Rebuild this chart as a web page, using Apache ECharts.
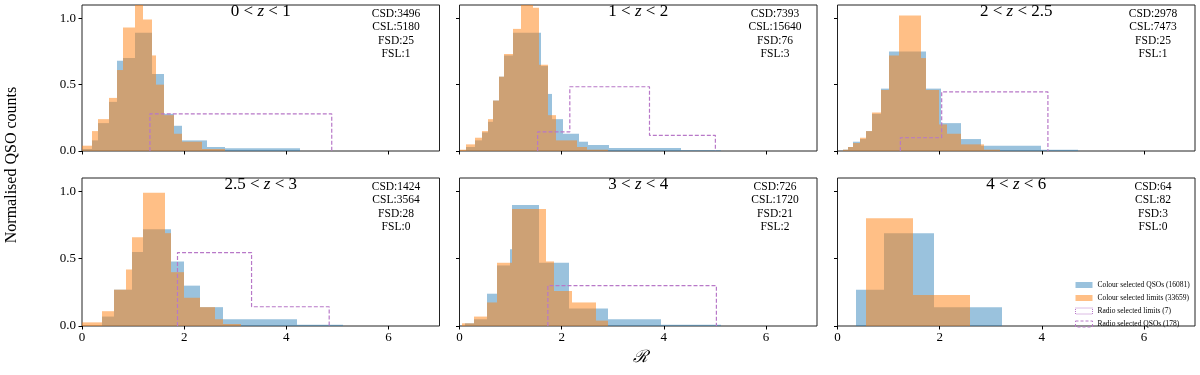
<!DOCTYPE html>
<html>
<head>
<meta charset="utf-8">
<script src="https://cdn.jsdelivr.net/npm/echarts@6/dist/echarts.min.js"></script>
<style>
html, body { margin: 0; padding: 0; background: #fff; }
#chart { width: 1200px; height: 375px; }
</style>
</head>
<body>
<div id="chart"></div>
<script>
// panel labels and counts
var zLabels = [['0', '1'], ['1', '2'], ['2', '2.5'], ['2.5', '3'], ['3', '4'], ['4', '6']];
var csdCounts = [3496, 7393, 2978, 1424, 726, 64];
var cslCounts = [5180, 15640, 7473, 3564, 1720, 82];
var fsdCounts = [25, 76, 25, 28, 21, 3];
var fslCounts = [1, 3, 1, 0, 2, 0];
var xTicks = [0, 2, 4, 6];
var yTicks = [0, 0.5, 1.0];

// colour selected QSOs (blue), bin edges and normalised heights per panel
var qsoEdges = [
    [0, 0.2, 0.32, 0.52, 0.68, 0.8, 1.04, 1.38, 1.6, 1.8, 1.96, 2.45, 2.8, 4.27],
    [0.13, 0.3, 0.45, 0.55, 0.65, 0.78, 0.88, 1.04, 1.6, 1.73, 1.82, 2.02, 2.34, 2.52, 2.93, 4.33, 5.13],
    [0.1, 0.2, 0.31, 0.44, 0.55, 0.68, 0.85, 1.01, 1.73, 2.02, 2.41, 2.8, 3.98, 4.7],
    [0.39, 0.63, 0.98, 1.2, 1.75, 2.0, 2.31, 2.76, 4.2, 5.12],
    [0.1, 0.28, 0.54, 0.74, 0.98, 1.03, 1.56, 2.14, 2.9, 3.94, 5.12],
    [0.366, 0.915, 1.88, 3.22]
];
var qsoHeights = [
    [0.015, 0.08, 0.21, 0.37, 0.68, 0.7, 0.89, 0.58, 0.28, 0.19, 0.08, 0.03, 0.02],
    [0.03, 0.08, 0.14, 0.22, 0.38, 0.56, 0.72, 0.89, 0.64, 0.43, 0.24, 0.13, 0.07, 0.045, 0.022, 0.005],
    [0.01, 0.03, 0.07, 0.09, 0.15, 0.28, 0.47, 0.75, 0.47, 0.21, 0.09, 0.04, 0.01],
    [0.07, 0.27, 0.55, 0.72, 0.48, 0.30, 0.14, 0.05, 0.01],
    [0.02, 0.05, 0.24, 0.45, 0.57, 0.90, 0.47, 0.13, 0.05, 0.01],
    [0.27, 0.69, 0.14]
];

// colour selected limits (orange)
var limEdges = [
    [0, 0.2, 0.32, 0.52, 0.68, 0.8, 1.04, 1.2, 1.38, 1.45, 1.6, 1.8, 1.96, 2.35, 2.8],
    [0, 0.13, 0.3, 0.45, 0.55, 0.65, 0.78, 0.88, 1.04, 1.21, 1.43, 1.55, 1.73, 1.89, 2.3, 2.5, 2.9],
    [0.1, 0.2, 0.31, 0.44, 0.55, 0.68, 0.85, 1.01, 1.21, 1.63, 1.73, 1.99, 2.15, 2.41, 2.86, 3.18],
    [0, 0.39, 0.63, 0.87, 0.98, 1.2, 1.63, 1.75, 2.0, 2.31, 2.6, 2.76, 3.12],
    [0.05, 0.28, 0.54, 0.74, 1.03, 1.69, 1.85, 2.21, 2.68, 2.9],
    [0.556, 1.477, 2.59]
];
var limHeights = [
    [0.04, 0.15, 0.24, 0.40, 0.61, 0.93, 1.15, 0.99, 0.72, 0.5, 0.27, 0.13, 0.07, 0.015],
    [0.01, 0.05, 0.1, 0.15, 0.24, 0.38, 0.56, 0.73, 0.92, 1.12, 1.08, 0.65, 0.27, 0.08, 0.03, 0.01],
    [0.01, 0.03, 0.06, 0.1, 0.15, 0.29, 0.46, 0.72, 1.02, 0.70, 0.46, 0.2, 0.13, 0.05, 0.01],
    [0.027, 0.11, 0.27, 0.42, 0.66, 0.99, 0.69, 0.40, 0.21, 0.14, 0.05, 0.015],
    [0.02, 0.07, 0.175, 0.47, 0.87, 0.48, 0.26, 0.175, 0.04],
    [0.80, 0.23]
];

// radio selected QSOs (dashed step outline)
var radioEdges = [
    [1.33, 4.89],
    [1.53, 2.16, 3.72, 5.01],
    [1.23, 2.04, 4.12],
    [1.87, 3.32, 4.84],
    [1.73, 5.03],
    []
];
var radioHeights = [
    [0.28],
    [0.144, 0.484, 0.118],
    [0.1, 0.446],
    [0.546, 0.143],
    [0.3],
    []
];

var NAME_QSO = 'Colour selected QSOs (16081)';
var NAME_LIM = 'Colour selected limits (33659)';
var NAME_RLIM = 'Radio selected limits (7)';
var NAME_RQSO = 'Radio selected QSOs (178)';

var BLUE = 'rgba(31,119,180,0.45)';
var ORANGE = 'rgba(255,127,14,0.5)';
var PURPLE = '#b878c8';
var FONT = '"Liberation Serif", "Times New Roman", serif';

var colLeft = [82, 459.5, 837.5];
var colWidth = 357.5;
var rowTop = [5, 178];
var rowHeight = [146, 148];
var statsX = [396, 775, 1153];

function binsOf(edges, heights) {
    return heights.map(function (h, i) {
        return [edges[i], edges[i + 1], h];
    });
}

function stepOf(edges, heights) {
    if (!heights.length) return [];
    var pts = [[edges[0], 0]];
    heights.forEach(function (h, i) {
        pts.push([edges[i], h], [edges[i + 1], h]);
    });
    pts.push([edges[edges.length - 1], 0]);
    return pts;
}

function renderBin(params, api) {
    var p0 = api.coord([api.value(0), api.value(2)]);
    var p1 = api.coord([api.value(1), 0]);
    // snap the sides to whole pixels so neighbouring bins leave no seams
    var x0 = Math.round(p0[0]), x1 = Math.round(p1[0]);
    var cs = params.coordSys;
    var rect = echarts.graphic.clipRectByRect(
        { x: x0, y: p0[1], width: x1 - x0, height: p1[1] - p0[1] },
        { x: cs.x, y: cs.y, width: cs.width, height: cs.height }
    );
    return rect && { type: 'rect', shape: rect, style: api.style() };
}

var chart = echarts.init(document.getElementById('chart'), null, { renderer: 'canvas' });

var grids = [], xAxes = [], yAxes = [], series = [], graphics = [];

for (var i = 0; i < 6; i++) {
    var r = Math.floor(i / 3), c = i % 3;
    grids.push({
        left: colLeft[c], top: rowTop[r], width: colWidth, height: rowHeight[r],
        show: true, borderColor: '#222', borderWidth: 1, backgroundColor: 'transparent',
        outerBoundsMode: 'none'
    });
    xAxes.push({
        type: 'value', gridIndex: i, min: 0, max: 7, interval: 2,
        axisLine: { show: false },
        axisTick: { show: true, inside: false, length: 3.5, customValues: xTicks, lineStyle: { color: '#000' } },
        axisLabel: {
            show: r === 1, customValues: xTicks, margin: 5,
            fontFamily: FONT, fontSize: 13, color: '#000'
        },
        splitLine: { show: false }
    });
    yAxes.push({
        type: 'value', gridIndex: i, min: 0, max: 1.1, interval: 0.5,
        axisLine: { show: false },
        axisTick: { show: true, inside: false, length: 3.5, customValues: yTicks, lineStyle: { color: '#000' } },
        axisLabel: {
            show: c === 0, customValues: yTicks, margin: 6,
            fontFamily: FONT, fontSize: 13, color: '#000',
            formatter: function (v) { return v.toFixed(1); }
        },
        splitLine: { show: false }
    });

    series.push({
        type: 'custom', name: NAME_QSO, xAxisIndex: i, yAxisIndex: i,
        renderItem: renderBin, encode: { x: [0, 1], y: 2 },
        itemStyle: { color: BLUE }, silent: true,
        data: binsOf(qsoEdges[i], qsoHeights[i])
    });
    series.push({
        type: 'custom', name: NAME_LIM, xAxisIndex: i, yAxisIndex: i,
        renderItem: renderBin, encode: { x: [0, 1], y: 2 },
        itemStyle: { color: ORANGE }, silent: true,
        data: binsOf(limEdges[i], limHeights[i])
    });
    series.push({
        type: 'line', name: NAME_RQSO, xAxisIndex: i, yAxisIndex: i,
        symbol: 'none', silent: true,
        itemStyle: { color: PURPLE },
        lineStyle: { color: PURPLE, width: 1.2, type: [4, 2] },
        data: stepOf(radioEdges[i], radioHeights[i])
    });

    var cx = colLeft[c] + colWidth / 2;
    graphics.push({
        type: 'text', x: cx, y: rowTop[r] - 1.5, silent: true,
        style: {
            text: zLabels[i][0] + ' < {i|z} < ' + zLabels[i][1],
            fill: '#000', fontFamily: FONT, fontSize: 17,
            align: 'center', verticalAlign: 'top',
            rich: { i: { fontStyle: 'italic', fontFamily: FONT, fontSize: 17, fill: '#000' } }
        }
    });
    graphics.push({
        type: 'text', x: statsX[c], y: rowTop[r] + 2.5, silent: true,
        style: {
            text: 'CSD:' + csdCounts[i] + '\nCSL:' + cslCounts[i] + '\nFSD:' + fsdCounts[i] + '\nFSL:' + fslCounts[i],
            fill: '#000', fontFamily: FONT, fontSize: 11.5, lineHeight: 13.3,
            align: 'center', verticalAlign: 'top'
        }
    });
}

// legend-only series for the radio selected limits
series.push({
    type: 'line', name: NAME_RLIM, xAxisIndex: 5, yAxisIndex: 5,
    symbol: 'none', silent: true, data: [],
    itemStyle: { color: PURPLE },
    lineStyle: { color: PURPLE, width: 1, type: 'dotted' }
});

graphics.push({
    type: 'text', x: 12, y: 165, rotation: Math.PI / 2, silent: true,
    style: {
        text: 'Normalised QSO counts', fill: '#000', fontFamily: FONT, fontSize: 16,
        align: 'center', verticalAlign: 'middle'
    }
});
graphics.push({
    type: 'text', x: 640, y: 358, silent: true,
    style: {
        text: 'ℛ', fill: '#000', fontFamily: FONT, fontSize: 17, fontStyle: 'italic',
        align: 'center', verticalAlign: 'middle'
    }
});

var option = {
    animation: false,
    grid: grids,
    xAxis: xAxes,
    yAxis: yAxes,
    legend: {
        orient: 'vertical', left: 1070, top: 276,
        itemWidth: 17, itemHeight: 6, itemGap: 5, selectedMode: false,
        textStyle: { fontFamily: FONT, fontSize: 7.5, color: '#000' },
        data: [
            { name: NAME_QSO, icon: 'rect' },
            { name: NAME_LIM, icon: 'rect' },
            { name: NAME_RLIM, icon: 'rect', itemStyle: { color: 'transparent', borderColor: PURPLE, borderWidth: 1, borderType: [1, 1] } },
            { name: NAME_RQSO, icon: 'rect', itemStyle: { color: 'transparent', borderColor: PURPLE, borderWidth: 1, borderType: [3, 2] } }
        ]
    },
    graphic: graphics,
    series: series
};

chart.setOption(option);

window.addEventListener('resize', function () {
    chart.resize();
});
</script>
</body>
</html>
